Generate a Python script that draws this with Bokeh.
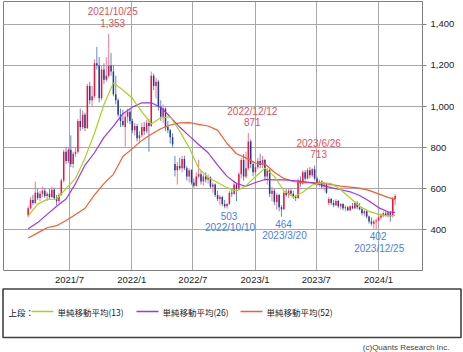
import datetime as dt
import pandas as pd
from bokeh.plotting import figure
from bokeh.layouts import column
from bokeh.models import ColumnDataSource, FixedTicker, NumeralTickFormatter, LabelSet, Label, Range1d
from bokeh.embed import file_html
from bokeh.resources import INLINE
from bokeh.core.properties import value

# ---------------- data (weekly candles) ----------------
first_week = "2021-03-01"
opens = [470, 505, 545, 530, 580, 555, 575, 590, 565, 575, 560, 595, 555, 540, 570, 640, 780, 735, 790, 720,
         770, 780, 930, 900, 960, 895, 1100, 1030, 1050, 1210, 1200, 1040, 1180, 1130, 1150, 1200, 1170, 1060, 1030, 960,
         930, 900, 950, 975, 930, 885, 905, 845, 860, 900, 880, 920, 905, 1150, 1100, 1120, 1000, 950, 990, 900,
         885, 850, 720, 690, 710, 700, 745, 700, 660, 690, 630, 615, 660, 670, 635, 660, 645, 655, 610, 620,
         570, 550, 560, 525, 515, 525, 580, 575, 620, 600, 670, 740, 660, 700, 830, 720, 680, 705, 735, 715,
         740, 660, 690, 575, 590, 535, 570, 510, 500, 580, 570, 590, 575, 560, 555, 640, 625, 680, 650, 690,
         665, 695, 650, 625, 635, 610, 620, 530, 550, 530, 520, 540, 515, 525, 505, 510, 495, 515, 505, 530,
         510, 500, 480, 490, 465, 440, 430, 440, 445, 460, 470, 480, 470, 485, 470, 550]
highs = [515, 560, 570, 635, 600, 590, 610, 600, 585, 600, 610, 605, 570, 580, 650, 790, 800, 800, 860, 780,
         800, 940, 990, 980, 970, 1110, 1120, 1100, 1230, 1290, 1240, 1200, 1210, 1240, 1353, 1260, 1200, 1150, 1040, 990,
         985, 970, 990, 990, 940, 920, 915, 880, 920, 925, 935, 940, 1170, 1160, 1140, 1130, 1030, 1010, 995, 930,
         890, 870, 760, 730, 750, 760, 760, 710, 700, 695, 650, 680, 740, 685, 670, 680, 670, 660, 630, 625,
         590, 570, 565, 545, 530, 590, 600, 640, 630, 680, 750, 770, 780, 871, 840, 735, 720, 750, 770, 760,
         745, 700, 695, 610, 600, 580, 575, 520, 590, 600, 600, 600, 590, 570, 650, 660, 690, 690, 700, 705,
         700, 713, 660, 645, 640, 630, 625, 560, 555, 545, 550, 545, 530, 530, 520, 515, 520, 530, 540, 540,
         530, 510, 500, 495, 470, 460, 450, 455, 470, 480, 490, 490, 490, 490, 560, 575]
lows = [460, 500, 520, 525, 545, 540, 560, 555, 540, 550, 555, 545, 520, 530, 565, 630, 720, 725, 705, 700,
        755, 770, 880, 890, 880, 890, 1010, 1000, 1040, 1180, 1020, 1030, 1110, 1120, 1140, 1150, 1050, 1010, 950, 900,
        900, 805, 920, 915, 870, 860, 830, 820, 850, 860, 870, 780, 900, 1080, 1040, 980, 930, 920, 880, 870,
        820, 800, 660, 620, 690, 680, 690, 640, 630, 620, 605, 610, 650, 620, 615, 630, 625, 600, 580, 560,
        540, 520, 515, 505, 503, 520, 560, 570, 540, 595, 650, 640, 650, 690, 700, 660, 665, 695, 700, 700,
        640, 620, 560, 540, 520, 500, 490, 464, 495, 560, 555, 565, 550, 540, 550, 610, 620, 640, 645, 650,
        655, 640, 615, 610, 600, 590, 575, 520, 520, 510, 515, 505, 500, 495, 490, 490, 490, 500, 500, 500,
        495, 470, 465, 455, 430, 420, 405, 402, 440, 450, 460, 465, 460, 440, 460, 520]
closes = [505, 545, 530, 580, 555, 575, 590, 565, 575, 560, 595, 555, 540, 570, 640, 780, 735, 790, 720, 770,
          780, 930, 900, 960, 895, 1100, 1030, 1050, 1210, 1200, 1040, 1180, 1130, 1150, 1200, 1170, 1060, 1030, 960, 930,
          910, 950, 975, 930, 885, 905, 845, 860, 900, 880, 920, 905, 1150, 1100, 1120, 1000, 950, 990, 900, 885,
          850, 815, 690, 710, 700, 745, 700, 660, 690, 630, 615, 660, 670, 635, 660, 645, 655, 610, 620, 570,
          550, 560, 525, 515, 525, 580, 575, 620, 600, 670, 740, 660, 700, 830, 720, 680, 705, 735, 715, 740,
          660, 690, 575, 590, 535, 570, 510, 500, 580, 570, 590, 575, 560, 555, 640, 625, 680, 650, 690, 665,
          695, 650, 625, 635, 610, 620, 580, 550, 530, 520, 540, 515, 525, 505, 510, 495, 515, 505, 530, 510,
          500, 480, 490, 465, 440, 430, 440, 445, 460, 470, 480, 470, 485, 465, 550, 565]

# moving averages, sampled at these week indices
ma_weeks = [0, 4, 8, 12, 16, 20, 24, 28, 32, 36, 40, 44, 48, 52, 56, 60, 64, 68, 72, 76,
            80, 84, 88, 92, 96, 100, 104, 108, 112, 116, 120, 124, 128, 132, 136, 140, 144, 148, 152, 155]
ma13 = [468, 525, 548, 550, 600, 650, 750, 870, 1010, 1115, 1080, 1040, 975, 915, 945, 950, 880, 800, 700, 655,
        630, 605, 588, 615, 658, 700, 660, 590, 560, 583, 618, 630, 625, 595, 555, 515, 490, 475, 468, 470]
ma26 = [405, 435, 475, 515, 550, 625, 715, 775, 850, 905, 965, 997, 1018, 1018, 995, 950, 900, 857, 815, 775,
        715, 660, 625, 612, 630, 645, 643, 643, 640, 635, 628, 618, 605, 595, 585, 567, 540, 508, 488, 485]
ma52 = [360, 385, 410, 420, 445, 475, 505, 570, 625, 670, 757, 795, 835, 865, 892, 910, 920, 922, 913, 905,
        885, 820, 770, 750, 725, 720, 680, 650, 635, 630, 630, 628, 620, 613, 608, 603, 592, 575, 558, 548]

high_dates = ["2021/10/25", "2022/12/12", "2023/6/26"]
high_values = [1353, 871, 713]
low_dates = ["2022/10/10", "2023/3/20", "2023/12/25"]
low_values = [503, 464, 402]

x_tick_dates = ["2021-07-01", "2022-01-01", "2022-07-01", "2023-01-01", "2023-07-01", "2024-01-01"]
x_tick_labels = ["2021/7", "2022/1", "2022/7", "2023/1", "2023/7", "2024/1"]
y_ticks = [400, 600, 800, 1000, 1200, 1400]

legend_labels = ["単純移動平均(13)", "単純移動平均(26)", "単純移動平均(52)"]
legend_title = "上段："
copyright_text = "(c)Quants Research Inc."

# ---------------- styles ----------------
UP = "#F0143C"
DOWN = "#1E3C9A"
UP_WICK = "#F27A90"
DOWN_WICK = "#6A86C8"
C13, C26, C52 = "#A6D41E", "#A032F0", "#FF5A28"
GRID = "#A8A8A8"
FONT = "Liberation Sans"
JFONT = "Noto Sans CJK JP"

dates = pd.date_range(first_week, periods=len(closes), freq="W-MON")
df = pd.DataFrame({"date": dates, "open": opens, "high": highs, "low": lows, "close": closes})
df["top"] = df[["open", "close"]].max(axis=1)
df["bottom"] = df[["open", "close"]].min(axis=1)
up = df[df["close"] >= df["open"]]
dn = df[df["close"] < df["open"]]

p = figure(width=463, height=287, x_axis_type="datetime", y_axis_location="right",
           x_range=Range1d(dt.datetime(2020, 12, 18), dt.datetime(2024, 5, 10)),
           y_range=Range1d(202, 1511),
           output_backend="svg", toolbar_location=None,
           min_border_left=3, min_border_right=41, min_border_top=1, min_border_bottom=15)
p.frame_align = False

p.outline_line_color = "#808080"
p.xgrid.grid_line_color = GRID
p.ygrid.grid_line_color = GRID
p.background_fill_color = "white"

tick_ms = [pd.Timestamp(d).value / 1e6 for d in x_tick_dates]
p.xaxis.ticker = FixedTicker(ticks=tick_ms)
p.xaxis.major_label_overrides = {t: l for t, l in zip(tick_ms, x_tick_labels)}
p.xaxis.major_tick_out = 0
p.xaxis.major_tick_in = 0
p.xaxis.minor_tick_line_color = None
p.xaxis.axis_line_color = None
p.xaxis.major_label_standoff = 3

p.yaxis.ticker = FixedTicker(ticks=y_ticks)
p.yaxis.formatter = NumeralTickFormatter(format="0,0")
p.yaxis.major_tick_out = 4
p.yaxis.major_tick_in = 0
p.yaxis.major_tick_line_color = "#808080"
p.yaxis.minor_tick_line_color = None
p.yaxis.axis_line_color = None
p.yaxis.major_label_standoff = 4

for ax in (p.xaxis, p.yaxis):
    ax.major_label_text_font = FONT
    ax.major_label_text_font_size = "9.5px"
    ax.major_label_text_color = "#222222"

wk = 4.4 * 24 * 3600 * 1000
p.segment(x0="date", y0="low", x1="date", y1="high", source=ColumnDataSource(up), color=UP_WICK, line_width=1)
p.segment(x0="date", y0="low", x1="date", y1="high", source=ColumnDataSource(dn), color=DOWN_WICK, line_width=1)
p.vbar(x="date", width=wk, top="top", bottom="bottom", source=ColumnDataSource(up),
       fill_color=UP, line_color=None)
p.vbar(x="date", width=wk, top="top", bottom="bottom", source=ColumnDataSource(dn),
       fill_color=DOWN, line_color=None)

ma_x = [dates[i] for i in ma_weeks]
p.line(ma_x, ma52, color=C52, line_width=1.2)
p.line(ma_x, ma26, color=C26, line_width=1.2)
p.line(ma_x, ma13, color=C13, line_width=1.2)

hi_src = ColumnDataSource(dict(x=[pd.Timestamp(d.replace("/", "-")) for d in high_dates], y=high_values,
                               d=high_dates, v=[f"{v:,}" for v in high_values]))
lo_src = ColumnDataSource(dict(x=[pd.Timestamp(d.replace("/", "-")) for d in low_dates], y=low_values,
                               d=low_dates, v=[f"{v:,}" for v in low_values]))
common = dict(text_font=value(FONT), text_font_size="10px", text_align="center", text_baseline="middle")
p.add_layout(LabelSet(x="x", y="y", text="d", source=hi_src, x_offset=4, y_offset=22, text_color="#E0505A", **common))
p.add_layout(LabelSet(x="x", y="y", text="v", source=hi_src, x_offset=4, y_offset=11, text_color="#E0505A", **common))
p.add_layout(LabelSet(x="x", y="y", text="v", source=lo_src, x_offset=2, y_offset=-7, text_color="#4A7FE0", **common))
p.add_layout(LabelSet(x="x", y="y", text="d", source=lo_src, x_offset=3, y_offset=-19, text_color="#4A7FE0", **common))

# ---------------- legend panel ----------------
q = figure(width=463, height=65, x_range=Range1d(0, 463), y_range=Range1d(0, 65),
           x_axis_location=None, y_axis_location=None,
           output_backend="svg", toolbar_location=None,
           min_border_left=0, min_border_right=0, min_border_top=0, min_border_bottom=0)
q.frame_align = False
q.grid.visible = False
q.outline_line_color = None
q.quad(left=[2.5], right=[460.5], top=[63.5], bottom=[15], fill_color=None, line_color="#404040", line_width=1.6)
q.add_layout(Label(x=8, y=41, text=legend_title, text_font=JFONT, text_font_size="8.5px",
                   text_baseline="middle", text_color="#222222"))
for x0, col, lab in zip([31, 136, 240], [C13, C26, C52], legend_labels):
    q.line([x0, x0 + 22], [41, 41], color=col, line_width=1.5)
    q.add_layout(Label(x=x0 + 26, y=41, text=lab, text_font=JFONT, text_font_size="8.5px",
                       text_baseline="middle", text_color="#222222"))
q.add_layout(Label(x=449, y=5, text=copyright_text, text_font=FONT, text_font_size="8px",
                   text_align="right", text_baseline="middle", text_color="#444444"))

layout = column(p, q, spacing=0)
open("out.html", "w").write(file_html(layout, INLINE))
